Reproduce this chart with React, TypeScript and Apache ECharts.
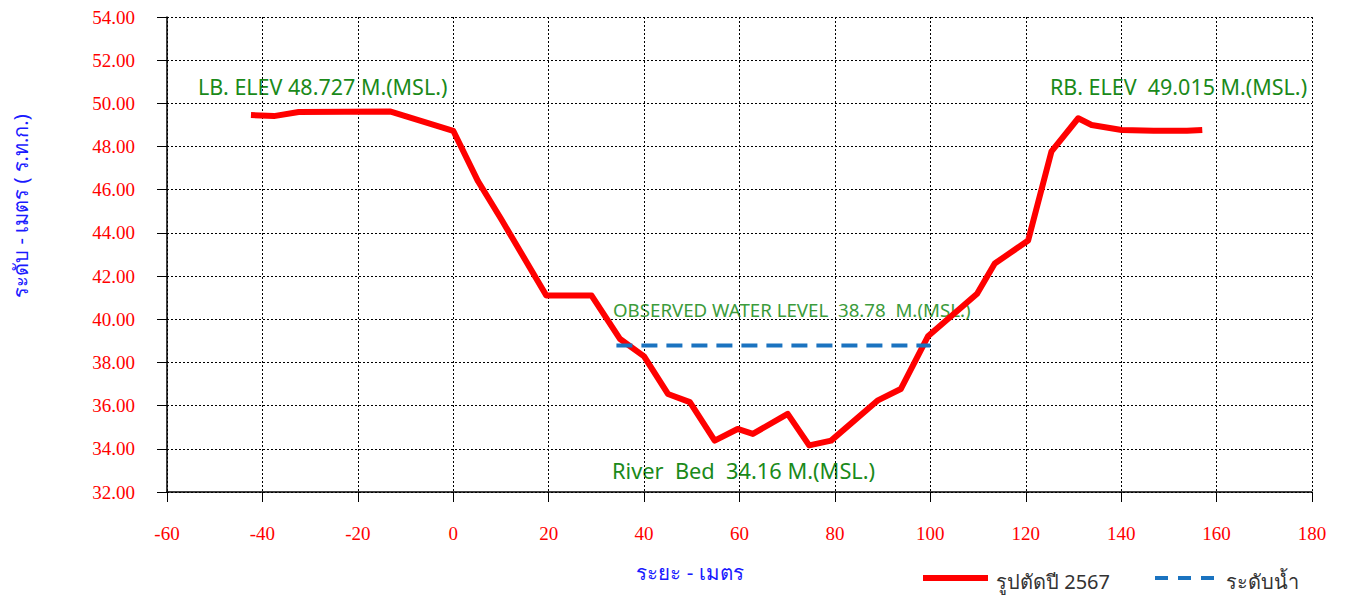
import React, { useEffect, useRef } from "react";
import * as echarts from "echarts";

const distances = [-42.4, -37.6, -32.4, -13.1, 0, 5.2, 10.1, 19.5, 29.0, 34.9, 40, 45.0, 49.6, 54.8, 59.6, 62.8, 70.1, 74.6, 79.2, 88.9, 93.8, 99.5, 109.8, 113.5, 120.5, 125.4, 131.0, 133.8, 140.1, 146.8, 153.8, 157.0];
const elevations = [49.46, 49.41, 49.6, 49.62, 48.73, 46.39, 44.62, 41.1, 41.1, 39.1, 38.28, 36.54, 36.16, 34.38, 34.92, 34.69, 35.62, 34.16, 34.38, 36.23, 36.77, 39.21, 41.18, 42.58, 43.65, 47.78, 49.31, 49.0, 48.77, 48.73, 48.73, 48.77];
const waterX = [34.2, 100];
const waterLevel = 38.78;

const seriesNames = ["รูปตัดปี 2567", "ระดับน้ำ"];
const labels = {
  lb: "LB. ELEV 48.727 M.(MSL.)",
  rb: "RB. ELEV  49.015 M.(MSL.)",
  water: "OBSERVED WATER LEVEL  38.78  M.(MSL.)",
  bed: "River  Bed  34.16 M.(MSL.)",
  yName: "ระดับ - เมตร ( ร.ท.ก.)",
  xName: "ระยะ - เมตร",
};

export default function App() {
  const ref = useRef<HTMLDivElement>(null);
  useEffect(() => {
    const chart = echarts.init(ref.current!, null, { renderer: "svg" });
    const sans = "'Noto Sans', 'DejaVu Sans', sans-serif";
    const serif = "'Liberation Serif', 'Times New Roman', serif";
    chart.setOption({
      animation: false,
      backgroundColor: "#ffffff",
      grid: { left: 167, top: 17, right: 33, bottom: 106 },
      xAxis: {
        type: "value",
        min: -60,
        max: 180,
        interval: 20,
        axisLine: { show: true, onZero: false, lineStyle: { color: "#000", width: 1.5 } },
        axisTick: { show: true, length: 10, lineStyle: { color: "#000" } },
        axisLabel: { color: "#ff0000", fontFamily: serif, fontSize: 19, margin: 32 },
        splitLine: { show: true, lineStyle: { color: "#000", type: [2, 2], width: 1 } },
      },
      yAxis: {
        type: "value",
        min: 32,
        max: 54,
        interval: 2,
        axisLine: { show: true, onZero: false, lineStyle: { color: "#000", width: 1.5 } },
        axisTick: { show: true, length: 10, lineStyle: { color: "#000" } },
        axisLabel: {
          color: "#ff0000",
          fontFamily: serif,
          fontSize: 19,
          margin: 32,
          formatter: (v: number) => v.toFixed(2),
        },
        splitLine: { show: true, lineStyle: { color: "#000", type: [2, 2], width: 1 } },
      },
      series: [
        {
          name: seriesNames[0],
          type: "line",
          data: distances.map((d, i) => [d, elevations[i]]),
          showSymbol: false,
          symbol: "none",
          lineStyle: { color: "#ff0000", width: 6, join: "round" },
        },
        {
          name: seriesNames[1],
          type: "line",
          data: waterX.map((d) => [d, waterLevel]),
          showSymbol: false,
          symbol: "none",
          lineStyle: { color: "#1a73c0", width: 4, type: [16, 9] },
        },
      ],
      graphic: [
        { type: "text", x: 198, y: 86, style: { text: labels.lb, fill: "#1a8a1a", font: `21.5px ${sans}`, verticalAlign: "middle" } },
        { type: "text", x: 1050, y: 86, style: { text: labels.rb, fill: "#1a8a1a", font: `21.5px ${sans}`, verticalAlign: "middle" } },
        { type: "text", x: 613, y: 309, style: { text: labels.water, fill: "#3c9c3c", font: `18.7px ${sans}`, verticalAlign: "middle" } },
        { type: "text", x: 612, y: 470, style: { text: labels.bed, fill: "#1a8a1a", font: `21.8px ${sans}`, verticalAlign: "middle" } },
        {
          type: "text",
          x: 20,
          y: 206,
          rotation: Math.PI / 2,
          style: { text: labels.yName, fill: "#1a1aff", font: `20px ${sans}`, align: "center", verticalAlign: "middle" },
        },
        {
          type: "text",
          x: 690,
          y: 572,
          style: { text: labels.xName, fill: "#1a1aff", font: `20.5px ${sans}`, align: "center", verticalAlign: "middle" },
        },
        { type: "line", shape: { x1: 923, y1: 578, x2: 988, y2: 578 }, style: { stroke: "#ff0000", lineWidth: 6 } },
        { type: "text", x: 996, y: 581, style: { text: seriesNames[0], fill: "#333", font: `20px ${sans}`, verticalAlign: "middle" } },
        { type: "line", shape: { x1: 1155, y1: 578, x2: 1222, y2: 578 }, style: { stroke: "#1a73c0", lineWidth: 4, lineDash: [13, 10] } },
        { type: "text", x: 1226, y: 581, style: { text: seriesNames[1], fill: "#333", font: `20px ${sans}`, verticalAlign: "middle" } },
      ],
    });
    return () => chart.dispose();
  }, []);
  return <div ref={ref} style={{ position: "fixed", left: 0, top: 0, width: 1345, height: 598 }} />;
}
